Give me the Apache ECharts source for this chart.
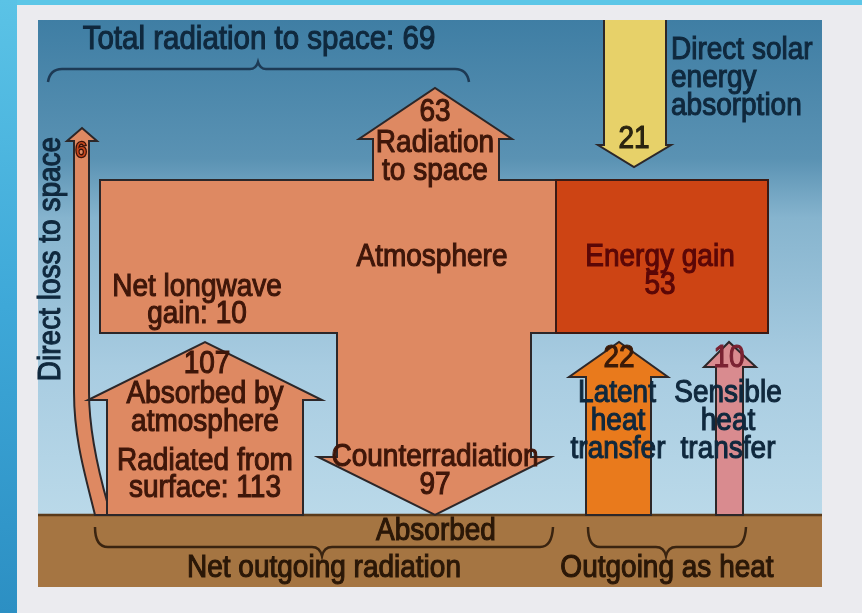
<!DOCTYPE html>
<html><head><meta charset="utf-8">
<script src="https://cdn.jsdelivr.net/npm/echarts@6/dist/echarts.min.js"></script>
<style>html,body{margin:0;padding:0;background:#ebebef}#c{width:862px;height:613px}</style>
</head><body><div id="c"></div>
<script>
// ---- data: energy flows (units of the diagram) ----
const flowNames = ['Total radiation to space','Radiation to space','Direct loss to space','Direct solar energy absorption','Energy gain','Net longwave gain','Absorbed by atmosphere','Radiated from surface','Counterradiation','Latent heat transfer','Sensible heat transfer'];
const flowValues = [69, 63, 6, 21, 53, 10, 107, 113, 97, 22, 10];
const regionNames = ['Atmosphere'];
const groupNames = ['Absorbed', 'Net outgoing radiation', 'Outgoing as heat'];
const val = n => flowValues[flowNames.indexOf(n)];

// ---- layout (diagram coordinates on hidden axes) ----
const NAVY = '#0f283d', BROWN = '#3e1609', MAROON = '#5a0707', EARTH = '#2a1707', OUT = '#2c2729';
const SALMON = '#de8962';
const G = echarts.graphic;
const skyGrad = new G.LinearGradient(0, 0, 0, 1, [
  {offset: 0, color: '#3f7ea4'}, {offset: 0.28, color: '#5a92b3'}, {offset: 0.4, color: '#86b4ce'},
  {offset: 0.7, color: '#a8cce1'}, {offset: 1, color: '#bad9e9'}]);
const stripeGrad = new G.LinearGradient(0, 0, 0, 1, [
  {offset: 0, color: '#5bc3e6'}, {offset: 0.5, color: '#3ea8d8'}, {offset: 1, color: '#2c8fc3'}]);

const shapes = [
  {k: 'poly', pts: [[0,0],[17,0],[17,613],[0,613]], fill: stripeGrad},
  {k: 'poly', pts: [[17,0],[862,0],[862,5],[17,5]], fill: '#5cc6e7'},
  {k: 'poly', pts: [[38,20],[822,20],[822,515],[38,515]], fill: skyGrad},
  {k: 'poly', pts: [[38,515],[822,515],[822,587],[38,587]], fill: '#a57542'},
  {k: 'line', pts: [[38,515],[822,515]], stroke: '#5a3a1a', lw: 2.5},
  // direct loss to space (6)
  {k: 'path', d: [['M',95,515],['C',86,478,74,440,74,392],['L',74,141],['L',67,141],['L',82,128],['L',97,141],['L',89,141],['L',89,392],['C',89,432,98,470,108,505],['L',108,515],['Z']], fill: SALMON, stroke: OUT},
  // radiated from surface (113) / absorbed by atmosphere (107)
  {k: 'poly', pts: [[107,515],[107,400],[88,400],[205,342],[322,400],[303,400],[303,515]], fill: SALMON, stroke: OUT},
  // atmosphere with radiation to space (63) and counterradiation (97)
  {k: 'poly', pts: [[100,180],[373,180],[373,139],[359,139],[435,88],[512,139],[499,139],[499,180],[768,180],[768,333],[531,333],[531,457],[551,457],[435,515],[318,457],[337,457],[337,333],[100,333]], fill: SALMON, stroke: OUT},
  // energy gain (53)
  {k: 'poly', pts: [[556,180],[768,180],[768,333],[556,333]], fill: '#cd4414', stroke: '#3a1a14'},
  // direct solar absorption (21)
  {k: 'poly', pts: [[604,20],[666,20],[666,145],[671,145],[634,167],[598,145],[604,145]], fill: '#e7d169'},
  {k: 'line', pts: [[666,20],[666,145],[671,145],[634,167],[598,145],[604,145],[604,20]], stroke: OUT, lw: 2},
  // latent heat (22)
  {k: 'poly', pts: [[586,515],[586,377],[569,377],[619,342],[668,377],[651,377],[651,515]], fill: '#e97a1c', stroke: OUT},
  // sensible heat (10)
  {k: 'poly', pts: [[716,515],[716,367],[704,367],[729,342],[756,367],[743,367],[743,515]], fill: '#d98b8f', stroke: OUT},
  // braces
  {k: 'path', d: [['M',48,82],['Q',50,69,62,69],['L',250,69],['Q',256,69,258,62],['Q',260,69,266,69],['L',455,69],['Q',467,69,469,82]], stroke: '#1d3a55', lw: 2.5},
  {k: 'path', d: [['M',95,527],['Q',95,547,108,547],['L',312,547],['Q',320,547,322,556],['Q',324,547,332,547],['L',540,547],['Q',552,547,553,527]], stroke: '#3a2410', lw: 2.5},
  {k: 'path', d: [['M',588,527],['Q',588,547,600,547],['L',656,547],['Q',664,547,666,556],['Q',668,547,676,547],['L',733,547],['Q',745,547,746,527]], stroke: '#3a2410', lw: 2.5}
];

const texts = [
  {t: flowNames[0] + ': ' + val(flowNames[0]), p: [259,40], c: NAVY, s: 29.5},
  {t: 'Direct solar', p: [671,51], c: NAVY, a: 'left'},
  {t: 'energy', p: [671,79], c: NAVY, a: 'left'},
  {t: 'absorption', p: [671,107], c: NAVY, a: 'left'},
  {t: String(val('Direct solar energy absorption')), p: [634,140], c: '#2a2410'},
  {t: String(val('Radiation to space')), p: [435,113], c: BROWN},
  {t: 'Radiation', p: [435,144], c: BROWN},
  {t: 'to space', p: [435,172], c: BROWN},
  {t: flowNames[2], p: [52,259], c: NAVY, r: Math.PI / 2},
  {t: String(val('Direct loss to space')), p: [81,151], c: '#c8461c', s: 20, sc: '#3a1208'},
  {t: regionNames[0], p: [432,258], c: BROWN},
  {t: 'Energy gain', p: [660,258], c: MAROON},
  {t: String(val('Energy gain')), p: [660,286], c: MAROON},
  {t: 'Net longwave', p: [197,288], c: BROWN},
  {t: 'gain: ' + val('Net longwave gain'), p: [197,315], c: BROWN},
  {t: String(val('Absorbed by atmosphere')), p: [207,365], c: BROWN},
  {t: 'Absorbed by', p: [205,395], c: BROWN},
  {t: 'atmosphere', p: [205,423], c: BROWN},
  {t: 'Radiated from', p: [205,462], c: BROWN},
  {t: 'surface: ' + val('Radiated from surface'), p: [205,489], c: BROWN},
  {t: flowNames[8], p: [435,458], c: BROWN},
  {t: String(val('Counterradiation')), p: [435,486], c: BROWN},
  {t: String(val('Latent heat transfer')), p: [619,359], c: '#3a1a08'},
  {t: String(val('Sensible heat transfer')), p: [729,359], c: '#7a2232'},
  {t: 'Latent', p: [617,394], c: NAVY},
  {t: 'heat', p: [618,422], c: NAVY},
  {t: 'transfer', p: [618,450], c: NAVY},
  {t: 'Sensible', p: [728,394], c: NAVY},
  {t: 'heat', p: [728,422], c: NAVY},
  {t: 'transfer', p: [728,450], c: NAVY},
  {t: groupNames[0], p: [436,532], c: EARTH},
  {t: groupNames[1], p: [324,569], c: EARTH},
  {t: groupNames[2], p: [667,569], c: EARTH}
];

const FONT = '"Liberation Sans", Arial, sans-serif';

function renderShape(params, api) {
  const s = shapes[api.value(0)];
  const m = pt => api.coord(pt);
  if (s.k === 'poly') {
    return {type: 'polygon', shape: {points: s.pts.map(m)},
      style: {fill: s.fill, stroke: s.stroke || null, lineWidth: s.lw || 2, lineJoin: 'miter'}};
  }
  if (s.k === 'line') {
    return {type: 'polyline', shape: {points: s.pts.map(m)},
      style: {fill: null, stroke: s.stroke, lineWidth: s.lw || 2}};
  }
  let d = '';
  s.d.forEach(cmd => {
    d += cmd[0];
    for (let i = 1; i < cmd.length; i += 2) {
      const q = m([cmd[i], cmd[i + 1]]);
      d += ' ' + q[0].toFixed(1) + ' ' + q[1].toFixed(1);
    }
    d += ' ';
  });
  return {type: 'path', shape: {pathData: d},
    style: {fill: s.fill || 'none', stroke: s.stroke, lineWidth: s.lw || 2}};
}

function renderText(params, api) {
  const t = texts[api.value(0)];
  const q = api.coord(t.p);
  return {type: 'text', x: q[0], y: q[1], rotation: t.r || 0, scaleX: 1, scaleY: 1.1,
    style: {text: t.t, fill: t.c, font: (t.s || 28) + 'px ' + FONT,
      align: t.a || 'center', verticalAlign: 'middle',
      stroke: t.sc || t.c, lineWidth: t.sc ? 2.5 : 1.0}};
}

const chart = echarts.init(document.getElementById('c'), null, {renderer: 'canvas'});
chart.setOption({
  animation: false,
  backgroundColor: '#ebebef',
  grid: {left: 0, right: 0, top: 0, bottom: 0},
  xAxis: {type: 'value', min: 0, max: 862, show: false},
  yAxis: {type: 'value', min: 0, max: 613, inverse: true, show: false},
  series: [
    {type: 'custom', renderItem: renderShape, clip: false, silent: true,
      encode: {x: 0, y: 0}, data: shapes.map((s, i) => [i])},
    {type: 'custom', renderItem: renderText, clip: false, silent: true,
      encode: {x: 0, y: 0}, data: texts.map((s, i) => [i])}
  ]
});
</script></body></html>
